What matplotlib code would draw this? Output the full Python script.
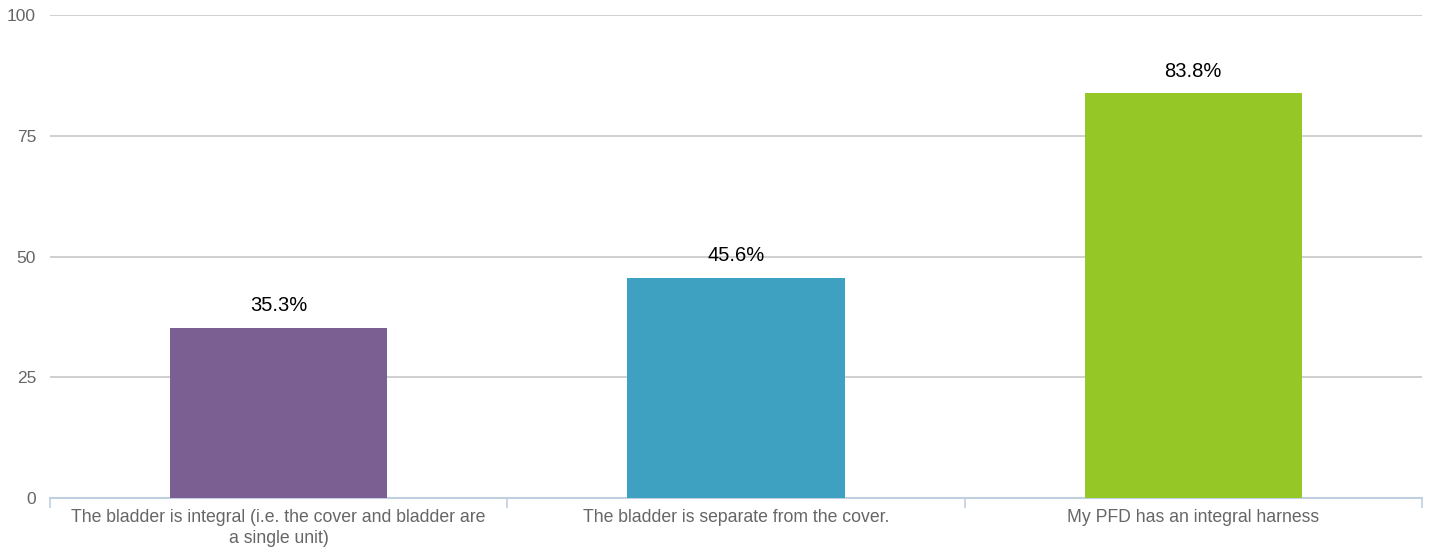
import matplotlib.pyplot as plt
import numpy as np

plt.rcParams["font.family"] = ["Liberation Sans", "DejaVu Sans"]

categories = [
    "The bladder is integral (i.e. the cover and bladder are\na single unit)",
    "The bladder is separate from the cover.",
    "My PFD has an integral harness",
]
values = [35.3, 45.6, 83.8]
colors = ["#7b5f92", "#3fa1c1", "#95c726"]
y_ticks = [0, 25, 50, 75, 100]

fig = plt.figure(figsize=(14.33, 5.5), dpi=100)
ax = fig.add_axes([0.0349, 0.0945, 0.9574, 0.8782])

x = np.arange(len(categories))
bars = ax.bar(x, values, width=0.475, color=colors, zorder=3)

for b, v in zip(bars, values):
    ax.annotate(f"{v}%", (b.get_x() + b.get_width() / 2, v), xytext=(0, 9),
                textcoords="offset points", ha="center", va="bottom",
                fontsize=14.5, color="#000000", zorder=4)

ax.set_xlim(-0.5, len(categories) - 0.5)
ax.set_ylim(0, 100)
ax.set_yticks(y_ticks)
ax.set_yticklabels([str(t) for t in y_ticks])
ax.yaxis.grid(True, color="#c8c8c8", linewidth=1.2, zorder=0)
ax.tick_params(axis="y", length=0, pad=10, labelsize=12.5, labelcolor="#666666")

# category labels centered, tick marks at category boundaries
ax.set_xticks(x)
ax.set_xticklabels(categories, fontsize=12.7, color="#666666", linespacing=1.3)
ax.tick_params(axis="x", which="major", length=0, pad=8)
ax.set_xticks(np.arange(-0.5, len(categories)), minor=True)
ax.tick_params(axis="x", which="minor", length=7, color="#c0d0e0", width=1.2)

for s in ["top", "right", "left"]:
    ax.spines[s].set_visible(False)
ax.spines["bottom"].set_color("#c0d0e0")
ax.spines["bottom"].set_linewidth(1.5)

fig.savefig("out.png", dpi=100)
